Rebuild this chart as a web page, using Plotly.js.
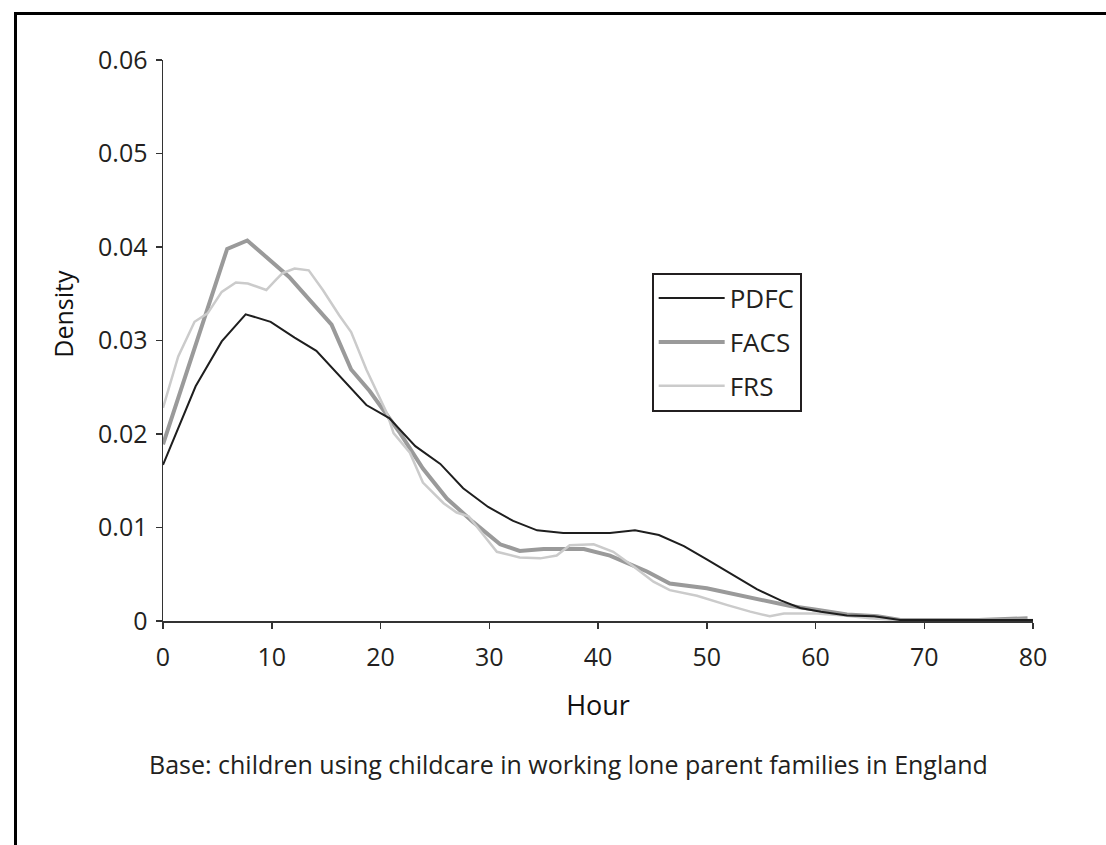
<!DOCTYPE html>
<html>
<head>
<meta charset="utf-8">
<script src="https://cdn.plot.ly/plotly-3.0.1.min.js"></script>
<style>
html, body { margin:0; padding:0; width:1106px; height:845px; overflow:hidden; background:#fff; }
#chart { position:absolute; left:0; top:0; width:1106px; height:845px; }
#frame { position:absolute; left:14px; top:12px; width:1200px; height:1000px; border-left:3px solid #000; border-top:3px solid #000; pointer-events:none; }
</style>
</head>
<body>
<div id="chart"></div>
<div id="frame"></div>
<script>
var seriesNames = ["PDFC", "FACS", "FRS"];

var pdfcX = [0, 3.0, 5.4, 7.6, 9.9, 12.1, 14.1, 16.4, 18.7, 20.8, 23.2, 25.5, 27.6, 29.9, 32.2, 34.4, 36.8, 41.1, 43.4, 45.6, 47.9, 50.0, 52.5, 54.6, 56.8, 58.6, 60.5, 62.9, 65.4, 67.8, 70, 75, 80];
var pdfcY = [0.0167, 0.0251, 0.0299, 0.0328, 0.0320, 0.0303, 0.0289, 0.0260, 0.0231, 0.0217, 0.0187, 0.0168, 0.0142, 0.0122, 0.0107, 0.0097, 0.0094, 0.0094, 0.0097, 0.0092, 0.0080, 0.0066, 0.0049, 0.0034, 0.0022, 0.0014, 0.0010, 0.0006, 0.0005, 0.0001, 0.0001, 0.0001, 0.0001];

var facsX = [0, 3.0, 5.9, 7.75, 11.6, 15.5, 17.3, 19.0, 21.8, 23.9, 26.1, 28.5, 31.0, 32.8, 35.0, 38.7, 41.1, 44.5, 46.6, 50.0, 54.0, 57.7, 60.1, 62.9, 65.7, 67.8, 70, 75, 79.5];
var facsY = [0.0189, 0.0295, 0.0398, 0.0407, 0.0368, 0.0317, 0.0269, 0.0246, 0.0201, 0.0163, 0.0131, 0.0106, 0.0082, 0.0075, 0.0077, 0.0077, 0.0070, 0.0053, 0.0040, 0.0035, 0.0025, 0.0016, 0.0012, 0.0007, 0.0005, 0.0001, 0.0001, 0.0001, 0.0003];

var frsX = [0, 1.4, 2.9, 4.1, 5.4, 6.7, 7.8, 9.5, 10.4, 11.0, 12.1, 13.4, 14.7, 16.2, 17.3, 18.7, 20.6, 21.2, 22.7, 23.9, 25.8, 27.0, 28.1, 30.7, 32.8, 34.7, 36.2, 37.4, 39.6, 41.4, 43.3, 45.1, 46.6, 49.1, 51.9, 54.0, 55.8, 57.1, 60.1, 62.6, 65, 67.5, 70, 75, 80];
var frsY = [0.0228, 0.0283, 0.0320, 0.0329, 0.0352, 0.0362, 0.0361, 0.0354, 0.0365, 0.0372, 0.0377, 0.0375, 0.0354, 0.0327, 0.0309, 0.0269, 0.0222, 0.0201, 0.0180, 0.0148, 0.0126, 0.0116, 0.0112, 0.0074, 0.0068, 0.0067, 0.0070, 0.0081, 0.0082, 0.0074, 0.0058, 0.0042, 0.0033, 0.0027, 0.0017, 0.0010, 0.0005, 0.0008, 0.0008, 0.0006, 0.0003, 0.0001, 0.0001, 0.0001, 0.0001];

var xTicks = [0, 10, 20, 30, 40, 50, 60, 70, 80];
var yTicks = [0, 0.01, 0.02, 0.03, 0.04, 0.05, 0.06];
var yTickText = ["0", "0.01", "0.02", "0.03", "0.04", "0.05", "0.06"];

var FONT = "Open Sans, Noto Sans, sans-serif";
var TXT = "#231f20";

var traces = [
  { x: facsX, y: facsY, name: seriesNames[1], type: "scatter", mode: "lines", legendrank: 2, legendgroup: "b",
    line: { color: "#9a9a9a", width: 4 } },
  { x: frsX, y: frsY, name: seriesNames[2], type: "scatter", mode: "lines", legendrank: 3, legendgroup: "c",
    line: { color: "#cbcbcb", width: 2.5 } },
  { x: pdfcX, y: pdfcY, name: seriesNames[0], type: "scatter", mode: "lines", legendrank: 1, legendgroup: "a",
    line: { color: "#1e1e1e", width: 2 } }
];

var layout = {
  width: 1106, height: 845,
  margin: { l: 163, r: 73, t: 60, b: 224, pad: 0 },
  paper_bgcolor: "#fff", plot_bgcolor: "#fff",
  font: { family: FONT, size: 24, color: TXT },
  showlegend: true,
  legend: {
    x: 0.5617, y: 0.6209, xanchor: "left", yanchor: "top",
    bordercolor: "#231f20", borderwidth: 2, bgcolor: "#fff",
    font: { family: FONT, size: 26, color: TXT },
    tracegroupgap: 7, itemwidth: 66, traceorder: "grouped"
  },
  xaxis: {
    range: [0, 80], tickvals: xTicks, ticktext: xTicks.map(String),
    showgrid: false, zeroline: false, showline: true, linecolor: "#333", linewidth: 1.5,
    ticks: "outside", ticklen: 6, tickwidth: 1.5, tickcolor: "#333",
    ticklabelstandoff: 7,
    tickfont: { family: FONT, size: 25, color: TXT },
    title: { text: "Hour", font: { family: FONT, size: 27, color: "#111" }, standoff: 24 }
  },
  yaxis: {
    range: [0, 0.06], tickvals: yTicks, ticktext: yTickText,
    showgrid: false, zeroline: false, showline: true, linecolor: "#333", linewidth: 1.5,
    ticks: "outside", ticklen: 6, tickwidth: 1.5, tickcolor: "#333",
    ticklabelstandoff: 3,
    tickfont: { family: FONT, size: 25, color: TXT },
    title: { text: "" }
  },
  annotations: [
    { text: "Density", xref: "paper", yref: "paper", x: -0.116, y: 0.548, xanchor: "center", yanchor: "middle",
      textangle: -90, showarrow: false, font: { family: FONT, size: 25, color: "#111" } },
    { text: "Base: children using childcare in working lone parent families in England",
      xref: "paper", yref: "paper", x: 0.466, y: -0.255, xanchor: "center", yanchor: "middle",
      showarrow: false, font: { family: FONT, size: 25, color: TXT } }
  ]
};

Plotly.newPlot("chart", traces, layout, { displayModeBar: false, staticPlot: true });
</script>
</body>
</html>
